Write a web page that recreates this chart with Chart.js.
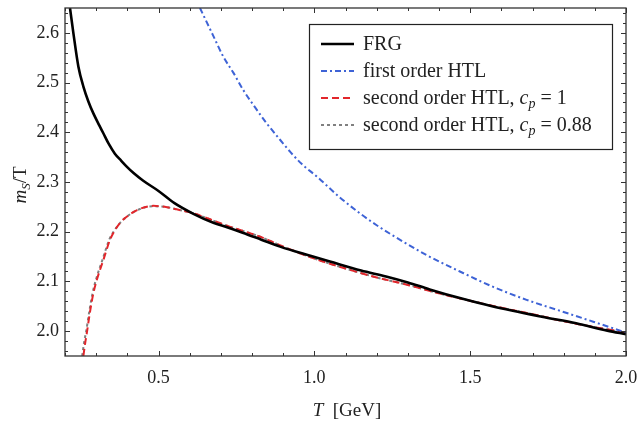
<!DOCTYPE html>
<html>
<head>
<meta charset="utf-8">
<script src="https://cdn.jsdelivr.net/npm/chart.js@4.4.1/dist/chart.umd.min.js"></script>
<style>
  html, body { margin: 0; padding: 0; background: #fff; }
  #wrap { width: 640px; height: 422px; }
</style>
</head>
<body>
<div id="wrap"><canvas id="chart"></canvas></div>
<script>
// FRG curve
var frgT = [0.216, 0.227, 0.243, 0.259, 0.275, 0.291, 0.31, 0.323, 0.34, 0.36, 0.38, 0.398, 0.42, 0.45, 0.5, 0.55, 0.612, 0.676, 0.72, 0.77, 0.83, 0.89, 0.99, 1.05, 1.15, 1.23, 1.3, 1.37, 1.47, 1.57, 1.73, 1.84, 1.94, 2.0];
var frgV = [2.650, 2.599, 2.532, 2.492, 2.462, 2.438, 2.414, 2.398, 2.377, 2.357, 2.343, 2.331, 2.318, 2.303, 2.282, 2.258, 2.236, 2.218, 2.209, 2.198, 2.184, 2.170, 2.151, 2.140, 2.122, 2.110, 2.098, 2.084, 2.066, 2.050, 2.029, 2.016, 2.001, 1.994];

// first order HTL
var htl1T = [0.633, 0.675, 0.708, 0.74, 0.772, 0.81, 0.847, 0.89, 0.922, 0.96, 1.008, 1.08, 1.146, 1.2, 1.253, 1.36, 1.467, 1.574, 1.681, 1.788, 1.895, 2.0];
var htl1V = [2.650, 2.595, 2.552, 2.520, 2.485, 2.450, 2.418, 2.385, 2.361, 2.336, 2.311, 2.270, 2.237, 2.213, 2.192, 2.153, 2.120, 2.089, 2.063, 2.041, 2.019, 1.997];

// second order HTL, cp = 1
var htl2T = [0.259, 0.265, 0.27, 0.28, 0.291, 0.302, 0.323, 0.344, 0.36, 0.38, 0.398, 0.43, 0.483, 0.52, 0.558, 0.612, 0.665, 0.72, 0.826, 0.9, 1.0, 1.1, 1.2, 1.3, 1.4, 1.5, 1.6, 1.7, 1.8, 1.9, 2.0];
var htl2V = [1.950, 1.977, 1.996, 2.038, 2.076, 2.103, 2.143, 2.183, 2.203, 2.220, 2.230, 2.243, 2.252, 2.250, 2.245, 2.237, 2.225, 2.212, 2.190, 2.170, 2.146, 2.126, 2.108, 2.093, 2.076, 2.061, 2.047, 2.034, 2.020, 2.008, 1.997];

// second order HTL, cp = 0.88
var htl3T = [0.255, 0.262, 0.268, 0.278, 0.289, 0.30, 0.321, 0.342, 0.36, 0.38, 0.398, 0.43, 0.483, 0.52, 0.558, 0.612, 0.665, 0.72, 0.826, 0.9, 1.0, 1.1, 1.2, 1.3, 1.4, 1.5, 1.6, 1.7, 1.8, 1.9, 2.0];
var htl3V = [1.950, 1.980, 2.000, 2.040, 2.078, 2.105, 2.145, 2.184, 2.204, 2.220, 2.230, 2.243, 2.251, 2.250, 2.245, 2.237, 2.225, 2.212, 2.190, 2.170, 2.146, 2.126, 2.108, 2.093, 2.076, 2.061, 2.047, 2.034, 2.020, 2.008, 1.997];

var xTickVals = [0.5, 1.0, 1.5, 2.0];
var yTickVals = [2.0, 2.1, 2.2, 2.3, 2.4, 2.5, 2.6];

var serif = "'Liberation Serif', 'Times New Roman', serif";

function pts(xs, ys) {
  var out = [];
  for (var i = 0; i < xs.length; i++) out.push({ x: xs[i], y: ys[i] });
  return out;
}

// legend text with italic / subscript pieces
var legendParts = [
  [{ t: 'FRG' }],
  [{ t: 'first order HTL' }],
  [{ t: 'second order HTL, ' }, { t: 'c', it: true }, { t: 'p', it: true, sub: true }, { t: ' = 1' }],
  [{ t: 'second order HTL, ' }, { t: 'c', it: true }, { t: 'p', it: true, sub: true }, { t: ' = 0.88' }]
];

function fontFor(p, size) {
  var s = p.sub ? Math.round(size * 0.7) : size;
  return (p.it ? 'italic ' : '') + s + 'px ' + serif;
}

function richWidth(ctx, parts, size) {
  var w = 0;
  parts.forEach(function (p) { ctx.font = fontFor(p, size); w += ctx.measureText(p.t).width; });
  return w;
}

function drawRich(ctx, parts, x, y, size) {
  ctx.textBaseline = 'alphabetic';
  ctx.textAlign = 'left';
  parts.forEach(function (p) {
    ctx.font = fontFor(p, size);
    ctx.fillText(p.t, x, y + (p.sub ? size * 0.22 : 0));
    x += ctx.measureText(p.t).width;
  });
}

var framePlugin = {
  id: 'frame',
  afterDraw: function (chart) {
    var ctx = chart.ctx, a = chart.chartArea;
    var xs = chart.scales.x, ys = chart.scales.y;
    ctx.save();
    ctx.strokeStyle = '#333';
    ctx.lineWidth = 1.3;
    ctx.strokeRect(a.left, a.top, a.right - a.left, a.bottom - a.top);
    ctx.lineWidth = 1;
    ctx.beginPath();
    // x ticks every 0.1, major at 0.5
    for (var k = 2; k <= 20; k++) {
      var v = k / 10;
      var px = Math.round(xs.getPixelForValue(v)) + 0.5;
      var len = (k % 5 === 0) ? 5 : 3;
      ctx.moveTo(px, a.bottom); ctx.lineTo(px, a.bottom - len);
      ctx.moveTo(px, a.top); ctx.lineTo(px, a.top + len);
    }
    // y ticks every 0.02, major at 0.1
    for (var j = 98; j <= 132; j++) {
      var vy = j / 50;
      var py = Math.round(ys.getPixelForValue(vy)) + 0.5;
      var leny = (j % 5 === 0) ? 5 : 3;
      ctx.moveTo(a.left, py); ctx.lineTo(a.left + leny, py);
      ctx.moveTo(a.right, py); ctx.lineTo(a.right - leny, py);
    }
    ctx.stroke();

    // axis titles
    ctx.fillStyle = '#222';
    var size = 19;
    var xt = [{ t: 'T', it: true }, { t: '  [GeV]' }];
    var w = richWidth(ctx, xt, size);
    drawRich(ctx, xt, 347 - w / 2, 416, size);

    ctx.save();
    ctx.translate(26, 185);
    ctx.rotate(-Math.PI / 2);
    var yt = [{ t: 'm', it: true }, { t: 'S', it: true, sub: true }, { t: '/T' }];
    var wy = richWidth(ctx, yt, size);
    drawRich(ctx, yt, -wy / 2, 0, size);
    ctx.restore();

    // legend box
    var bx = 309.5, by = 24.5, bw = 303, bh = 125;
    ctx.fillStyle = '#fff';
    ctx.fillRect(bx, by, bw, bh);
    ctx.strokeStyle = '#222';
    ctx.lineWidth = 1.2;
    ctx.strokeRect(bx, by, bw, bh);
    var rows = [44, 71, 98, 125];
    chart.data.datasets.forEach(function (ds, i) {
      ctx.save();
      ctx.strokeStyle = ds.borderColor;
      ctx.lineWidth = ds.borderWidth;
      ctx.setLineDash(ds.borderDash || []);
      ctx.beginPath();
      ctx.moveTo(321, rows[i]);
      ctx.lineTo(354, rows[i]);
      ctx.stroke();
      ctx.restore();
      ctx.fillStyle = '#222';
      drawRich(ctx, legendParts[i], 363, rows[i] + 6, 20);
    });
    ctx.restore();
  }
};

var ctx = document.getElementById('chart').getContext('2d');
var chart = new Chart(ctx, {
  type: 'line',
  data: {
    datasets: [
      { label: 'FRG', data: pts(frgT, frgV), borderColor: '#000', borderWidth: 2.6, borderDash: [], pointRadius: 0, cubicInterpolationMode: 'monotone' },
      { label: 'first order HTL', data: pts(htl1T, htl1V), borderColor: '#3e63d6', borderWidth: 2, borderDash: [6, 3, 2, 3], pointRadius: 0, cubicInterpolationMode: 'monotone' },
      { label: 'second order HTL, cp = 1', data: pts(htl2T, htl2V), borderColor: '#e2262b', borderWidth: 2, borderDash: [7, 4], pointRadius: 0, cubicInterpolationMode: 'monotone' },
      { label: 'second order HTL, cp = 0.88', data: pts(htl3T, htl3V), borderColor: '#808080', borderWidth: 2, borderDash: [3, 3], pointRadius: 0, cubicInterpolationMode: 'monotone' }
    ]
  },
  options: {
    responsive: true,
    maintainAspectRatio: false,
    animation: false,
    devicePixelRatio: 1,
    layout: { padding: { left: 0, right: 14, top: 8, bottom: 0 } },
    plugins: { legend: { display: false }, tooltip: { enabled: false } },
    scales: {
      x: {
        type: 'linear', min: 0.2, max: 2.0,
        afterBuildTicks: function (s) { s.ticks = xTickVals.map(function (v) { return { value: v }; }); },
        afterFit: function (s) { s.height = 66; s.paddingLeft = 0; s.paddingRight = 0; },
        grid: { display: false, drawTicks: false },
        border: { display: false },
        ticks: { color: '#222', padding: 11, maxRotation: 0, font: { family: serif, size: 18 },
          callback: function (v) { return Number(v).toFixed(1); } }
      },
      y: {
        type: 'linear', min: 1.95, max: 2.65,
        afterBuildTicks: function (s) { s.ticks = yTickVals.map(function (v) { return { value: v }; }); },
        afterFit: function (s) { s.width = 65; s.paddingTop = 0; s.paddingBottom = 0; },
        grid: { display: false, drawTicks: false },
        border: { display: false },
        ticks: { color: '#222', padding: 6, font: { family: serif, size: 18 },
          callback: function (v) { return Number(v).toFixed(1); } }
      }
    }
  },
  plugins: [framePlugin]
});
</script>
</body>
</html>
